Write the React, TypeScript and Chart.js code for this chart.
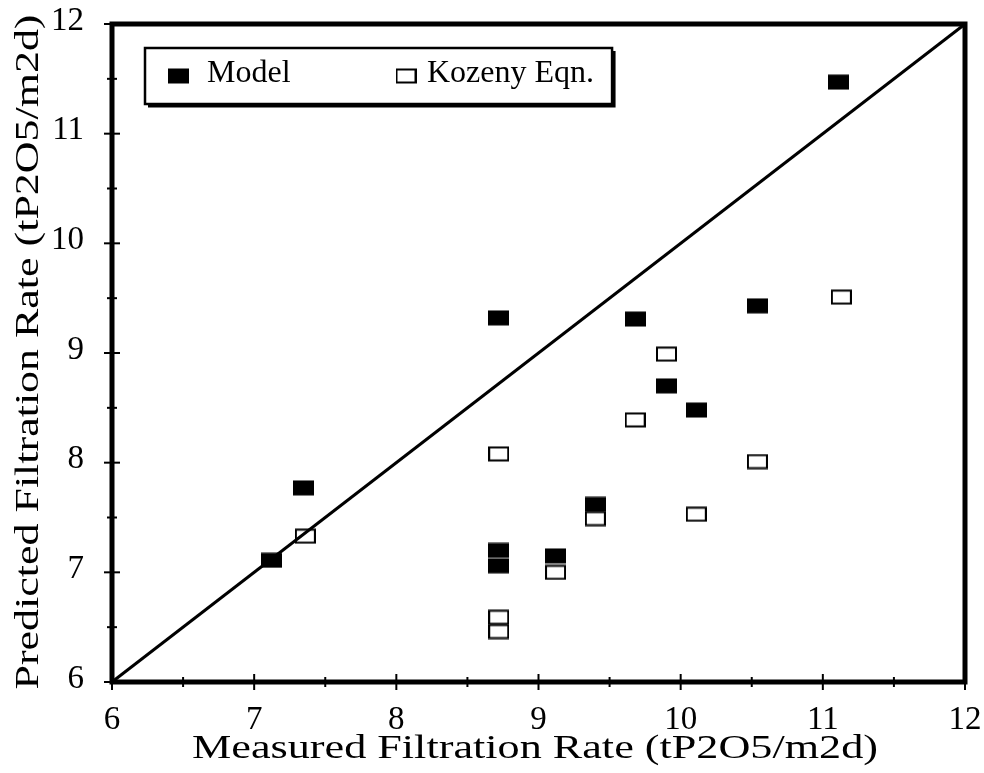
import React, { useEffect, useRef } from "react";
import { Chart, registerables } from "chart.js";

Chart.register(...registerables);

const modelMeasured = [7.12, 7.35, 8.72, 8.72, 8.72, 9.12, 9.4, 9.68, 9.9, 10.11, 10.54, 11.11];
const modelPredicted = [7.11, 7.77, 9.32, 7.2, 7.06, 7.15, 7.62, 9.31, 8.7, 8.48, 9.43, 11.47];
const kozenyMeasured = [7.36, 8.72, 8.72, 8.72, 9.12, 9.4, 9.68, 9.9, 10.11, 10.54, 11.13];
const kozenyPredicted = [7.33, 8.08, 6.59, 6.46, 7.0, 7.49, 8.39, 8.99, 7.53, 8.01, 9.51];
const parityLine = [6, 12];
const axisMin = 6;
const axisMax = 12;
const xTitle = "Measured Filtration Rate (tP2O5/m2d)";
const yTitle = "Predicted Filtration Rate (tP2O5/m2d)";

const FONT = "'Liberation Serif', 'Times New Roman', serif";

function makeMarker(filled: boolean): HTMLCanvasElement {
  const c = document.createElement("canvas");
  c.width = 21;
  c.height = 16;
  const ctx = c.getContext("2d")!;
  if (filled) {
    ctx.fillStyle = "#000";
    ctx.fillRect(0, 0.5, 21, 15);
  } else {
    ctx.strokeStyle = "#000";
    ctx.lineWidth = 2;
    ctx.strokeRect(1, 1.5, 19, 13);
  }
  return c;
}

const framePlugin = {
  id: "frameTicks",
  afterDatasetsDraw(chart: any) {
    const { ctx, chartArea } = chart;
    const xs = chart.scales.x;
    const ys = chart.scales.y;
    ctx.save();
    ctx.strokeStyle = "#000";
    ctx.lineWidth = 2;
    xs.ticks.forEach((t: any) => {
      const px = xs.getPixelForValue(t.value);
      const major = Math.abs(t.value - Math.round(t.value)) < 1e-6;
      const len = major ? 8 : 5;
      ctx.beginPath();
      ctx.moveTo(px, chartArea.bottom - len);
      ctx.lineTo(px, chartArea.bottom + len);
      ctx.stroke();
    });
    ys.ticks.forEach((t: any) => {
      const py = ys.getPixelForValue(t.value);
      const major = Math.abs(t.value - Math.round(t.value)) < 1e-6;
      const len = major ? 8 : 5;
      ctx.beginPath();
      ctx.moveTo(chartArea.left - len, py);
      ctx.lineTo(chartArea.left + len, py);
      ctx.stroke();
    });
    ctx.lineWidth = 5;
    ctx.strokeRect(chartArea.left, chartArea.top, chartArea.right - chartArea.left, chartArea.bottom - chartArea.top);
    ctx.restore();
  },
};

function stretchedText(ctx: CanvasRenderingContext2D, text: string, cx: number, cy: number, rot: number, targetWidth: number) {
  ctx.save();
  ctx.font = `33px ${FONT}`;
  const w = ctx.measureText(text).width;
  ctx.translate(cx, cy);
  ctx.rotate(rot);
  ctx.scale(targetWidth / w, 1);
  ctx.fillStyle = "#000";
  ctx.textAlign = "center";
  ctx.textBaseline = "middle";
  ctx.fillText(text, 0, 0);
  ctx.restore();
}

const titlesPlugin = {
  id: "axisTitles",
  afterDraw(chart: any) {
    const { ctx } = chart;
    stretchedText(ctx, xTitle, 535, 749, 0, 686);
    stretchedText(ctx, yTitle, 29, 352, -Math.PI / 2, 675);
  },
};

const legendPlugin = {
  id: "boxLegend",
  afterDraw(chart: any) {
    const { ctx } = chart;
    const ds = chart.data.datasets;
    const left = 145;
    const top = 48;
    const bottom = 104;
    ctx.save();
    ctx.font = `32px ${FONT}`;
    ctx.fillStyle = "#000";
    ctx.textBaseline = "alphabetic";
    const items = [
      { ds: ds[0], mx: 178, tx: 207 },
      { ds: ds[1], mx: 406, tx: 427 },
    ];
    let right = 0;
    items.forEach((it) => {
      const img = it.ds.pointStyle as HTMLCanvasElement;
      ctx.drawImage(img, it.mx - img.width / 2, 76 - img.height / 2);
      ctx.fillText(it.ds.label, it.tx, 82);
      right = Math.max(right, it.tx + ctx.measureText(it.ds.label).width);
    });
    right += 18;
    ctx.strokeStyle = "#000";
    ctx.lineWidth = 2.5;
    ctx.strokeRect(left, top, right - left, bottom - top);
    ctx.lineWidth = 3;
    ctx.beginPath();
    ctx.moveTo(left + 3, bottom + 2);
    ctx.lineTo(right + 2, bottom + 2);
    ctx.lineTo(right + 2, top + 3);
    ctx.stroke();
    ctx.restore();
  },
};

export default function App() {
  const ref = useRef<HTMLCanvasElement | null>(null);
  useEffect(() => {
    if (!ref.current) return;
    const filled = makeMarker(true);
    const open = makeMarker(false);
    const chart = new Chart(ref.current, {
      type: "scatter",
      data: {
        datasets: [
          {
            label: "Model",
            data: modelMeasured.map((x, i) => ({ x, y: modelPredicted[i] })),
            pointStyle: filled as any,
            pointRadius: 10,
            backgroundColor: "#000",
            borderColor: "#000",
            order: 1,
          },
          {
            label: "Kozeny Eqn.",
            data: kozenyMeasured.map((x, i) => ({ x, y: kozenyPredicted[i] })),
            pointStyle: open as any,
            pointRadius: 10,
            backgroundColor: "#000",
            borderColor: "#000",
            order: 2,
          },
          {
            type: "line" as any,
            label: "parity",
            data: parityLine.map((v) => ({ x: v, y: v })),
            borderColor: "#000",
            borderWidth: 3,
            pointRadius: 0,
            showLine: true,
            fill: false,
            order: 0,
          } as any,
        ],
      },
      options: {
        animation: false,
        responsive: true,
        maintainAspectRatio: false,
        layout: { padding: { top: 24, right: 19, left: 0, bottom: 0 } },
        plugins: {
          legend: { display: false },
          tooltip: { enabled: false },
        },
        scales: {
          x: {
            type: "linear",
            min: axisMin,
            max: axisMax,
            grid: { display: false, drawTicks: false, tickLength: 0 },
            border: { display: false },
            ticks: {
              stepSize: 0.5,
              autoSkip: false,
              maxRotation: 0,
              padding: 19,
              color: "#000",
              font: { family: FONT, size: 33 },
              callback: (v: any) => (Number.isInteger(v) ? String(v) : ""),
            },
            title: { display: false },
            afterFit: (s: any) => {
              s.height = 91;
              s.paddingLeft = 0;
              s.paddingRight = 0;
              s.paddingTop = 0;
              s.paddingBottom = 0;
            },
          },
          y: {
            type: "linear",
            min: axisMin,
            max: axisMax,
            grid: { display: false, drawTicks: false, tickLength: 0 },
            border: { display: false },
            ticks: {
              stepSize: 0.5,
              autoSkip: false,
              padding: 28,
              labelOffset: -3,
              color: "#000",
              font: { family: FONT, size: 33 },
              callback: (v: any) => (Number.isInteger(v) ? String(v) : ""),
            },
            title: { display: false },
            afterFit: (s: any) => {
              s.width = 112;
              s.paddingLeft = 0;
              s.paddingRight = 0;
              s.paddingTop = 0;
              s.paddingBottom = 0;
            },
          },
        },
      },
      plugins: [framePlugin, legendPlugin, titlesPlugin],
    });
    return () => chart.destroy();
  }, []);
  return (
    <div style={{ position: "fixed", left: 0, top: 0, width: 984, height: 773, background: "#fff" }}>
      <canvas ref={ref} />
    </div>
  );
}
